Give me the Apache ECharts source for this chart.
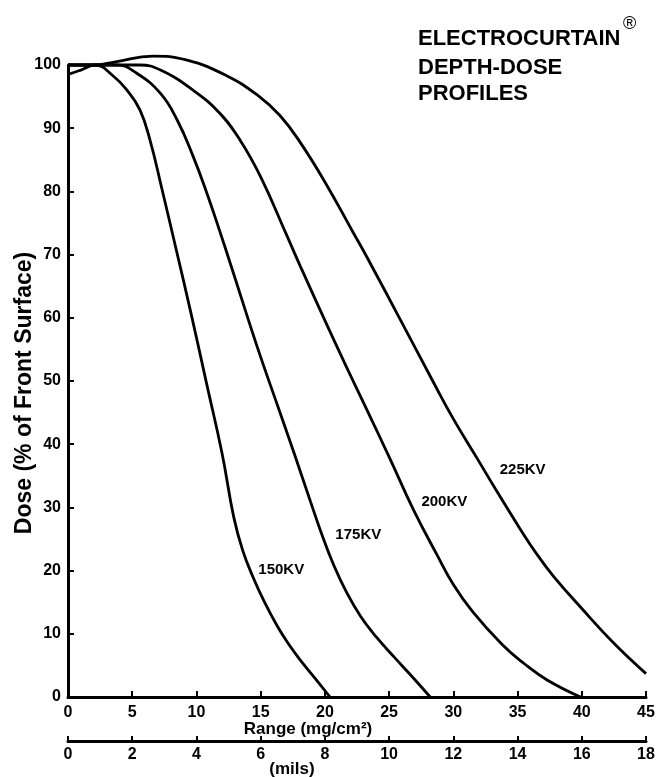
<!DOCTYPE html>
<html>
<head>
<meta charset="utf-8">
<script src="https://cdn.jsdelivr.net/npm/echarts@6/dist/echarts.min.js"></script>
<style>
  html, body { margin: 0; padding: 0; background: #fff; }
  #chart { width: 665px; height: 777px; }
</style>
</head>
<body>
<div id="chart"></div>
<script>
// Depth-dose profiles: dose (% of front surface) against range in mg/cm²
const seriesNames = ['150KV', '175KV', '200KV', '225KV'];

const kv150 = [[0,98.5],[1,99.2],[2.1,100],[3.5,98.3],[4.6,96],[5.6,92.9],[6.4,88],[7.3,80.5],[8.4,71],[9.6,60.5],[10.8,49.5],[12,38.5],[12.9,28.5],[13.6,23.2],[14.4,19],[15.3,15],[16.3,11.2],[17.2,8.3],[18.1,5.8],[19.3,2.8],[20.4,0]];
const kv175 = [[0,100],[2,100],[3.8,100],[5.35,98.7],[7.2,95.5],[8.5,91.3],[9.75,85.5],[10.8,79.8],[11.8,73.8],[12.7,68.2],[14.7,55.6],[16.3,46.2],[17.6,38.6],[18.9,30.8],[19.8,25.5],[20.7,20.8],[21.7,16.5],[22.8,12.7],[24,9.5],[25.4,6.3],[26.8,3.2],[28.2,0]];
const kv200 = [[0,100],[2,100],[5.6,100],[7.2,99.2],[9.75,96],[11.8,92.4],[13.4,88.1],[15,82.3],[17,73.2],[18.1,68.1],[20.4,57.8],[21.5,53],[23.3,45.3],[25,38],[26.9,29.6],[28.7,22.6],[30,17.8],[31.5,13.5],[33.8,8.3],[35.5,5.3],[37.3,2.7],[39.9,0]];
const kv225 = [[0,100],[2,100],[3.7,100.5],[6.6,101.4],[9.2,100.8],[12.35,98.3],[14.9,95],[16.5,92],[18,88],[20,81.5],[22.2,73.5],[23.3,69.5],[25.9,59.6],[28.5,49.6],[30,44],[31.9,37.6],[33.4,32.5],[35.2,26.6],[36.5,22.6],[37.8,19.1],[40,14],[42.5,8.5],[45,3.7]];

// where each curve's name is written (range, dose)
const labelAt = [[16.6,20.1],[22.6,25.6],[29.3,30.9],[35.4,35.9]];

// axis tick values
const rangeTicks = [0,5,10,15,20,25,30,35,40,45];
const milsTicks = [0,2,4,6,8,10,12,14,16,18];
const doseTicks = [0,10,20,30,40,50,60,70,80,90,100];

const FONT = "'Liberation Sans', Arial, Helvetica, sans-serif";
const curves = [kv150, kv175, kv200, kv225];

const chart = echarts.init(document.getElementById('chart'), null, { renderer: 'canvas' });

const axisBase = {
  axisLine: { show: true, lineStyle: { color: '#000', width: 3 } },
  axisTick: { show: true, inside: true, length: 6, lineStyle: { color: '#000', width: 2 } },
  splitLine: { show: false },
  axisLabel: { color: '#000', fontFamily: FONT, fontWeight: 'bold', fontSize: 16 }
};

chart.setOption({
  backgroundColor: '#fff',
  animation: false,
  grid: { left: 68, right: 19, top: 65, bottom: 80, containLabel: false },
  xAxis: [
    Object.assign({}, axisBase, {
      type: 'value',
      min: rangeTicks[0], max: rangeTicks[rangeTicks.length - 1],
      interval: rangeTicks[1] - rangeTicks[0],
      position: 'bottom',
      axisLabel: Object.assign({}, axisBase.axisLabel, { margin: 8 })
    }),
    Object.assign({}, axisBase, {
      type: 'value',
      min: milsTicks[0], max: milsTicks[milsTicks.length - 1],
      interval: milsTicks[1] - milsTicks[0],
      position: 'bottom',
      offset: 44,
      axisTick: { show: true, inside: true, length: 5, lineStyle: { color: '#000', width: 2 } },
      axisLabel: Object.assign({}, axisBase.axisLabel, { margin: 6 })
    })
  ],
  yAxis: Object.assign({}, axisBase, {
    type: 'value',
    min: doseTicks[0], max: doseTicks[doseTicks.length - 1],
    interval: doseTicks[1] - doseTicks[0],
    axisLabel: Object.assign({}, axisBase.axisLabel, { margin: 7 })
  }),
  series: curves.map((d, i) => ({
    name: seriesNames[i],
    type: 'line',
    xAxisIndex: 0,
    data: d,
    smooth: 0.45,
    showSymbol: false,
    symbol: 'none',
    clip: false,
    lineStyle: { color: '#000', width: 2.8 },
    markPoint: {
      symbol: 'circle',
      symbolSize: 0,
      silent: true,
      data: [{ coord: labelAt[i], value: seriesNames[i] }],
      label: {
        show: true,
        position: 'inside',
        formatter: seriesNames[i],
        color: '#000',
        fontFamily: FONT,
        fontWeight: 'bold',
        fontSize: 15
      }
    }
  })),
  graphic: [
    { type: 'text', x: 418, y: 28, style: { text: 'ELECTROCURTAIN', font: 'bold 22px ' + FONT, fill: '#000' } },
    { type: 'text', x: 623, y: 15, style: { text: '®', font: '18px ' + FONT, fill: '#000' } },
    { type: 'text', x: 418, y: 57, style: { text: 'DEPTH-DOSE', font: 'bold 22px ' + FONT, fill: '#000' } },
    { type: 'text', x: 418, y: 83, style: { text: 'PROFILES', font: 'bold 22px ' + FONT, fill: '#000' } },
    { type: 'text', x: 25, y: 393, rotation: Math.PI / 2,
      style: { text: 'Dose (% of Front Surface)', font: 'bold 23px ' + FONT, fill: '#000', align: 'center', verticalAlign: 'middle' } },
    { type: 'text', x: 308, y: 721, style: { text: 'Range (mg/cm²)', font: 'bold 17px ' + FONT, fill: '#000', align: 'center' } },
    { type: 'text', x: 292, y: 761, style: { text: '(mils)', font: 'bold 17px ' + FONT, fill: '#000', align: 'center' } }
  ]
});
</script>
</body>
</html>
